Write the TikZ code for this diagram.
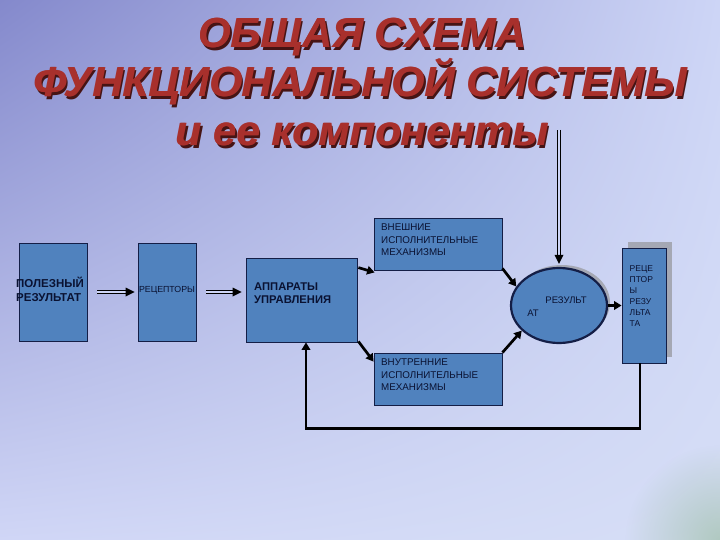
\documentclass[tikz,border=0pt]{standalone}
\usepackage{fontspec}
\setmainfont{Liberation Sans}
\usetikzlibrary{arrows.meta,shapes.geometric,fadings,shadings}
\tikzfading[name=cornerfade, inner color=transparent!0, outer color=transparent!100]
\definecolor{bgA}{RGB}{132,137,204}
\definecolor{bgB}{RGB}{205,213,246}
\definecolor{bgC}{RGB}{208,214,246}
\definecolor{bgD}{RGB}{214,222,246}
\definecolor{corner}{RGB}{160,192,170}
\definecolor{boxblue}{RGB}{80,130,190}
\definecolor{boxline}{RGB}{20,30,70}
\definecolor{txt}{RGB}{10,18,50}
\definecolor{ttl}{RGB}{168,48,44}
\definecolor{ttlsh}{RGB}{70,20,20}
\definecolor{shadowgrey}{RGB}{165,168,180}
\newcommand{\myttl}[1]{\makebox[0pt][l]{\hspace*{2.2pt}\raisebox{-2.2pt}{\color{ttlsh}#1}}\makebox[0pt][l]{\hspace*{0.8pt}#1}#1}
\tikzset{
  boxnode/.style={draw=boxline, fill=boxblue, line width=0.8pt, inner sep=0pt},
  boxtext/.style={text=txt, inner sep=0pt, align=left, font=\fontsize{9.8}{12.5}\selectfont},
  arr/.style={line width=2.7pt, -{Triangle[length=7.5pt,width=8.5pt]}},
  dblline/.style={draw=black, double=bgB, double distance=2.2pt, line width=0.7pt},
  ttlfont/.style={font=\fontsize{42}{42}\selectfont\bfseries\itshape, inner sep=0pt, anchor=base, text=ttl}
}
\begin{document}
\begin{tikzpicture}[x=1pt,y=-1pt]
\useasboundingbox (0,0) rectangle (720,540);
\begin{scope}
\clip (0,0) rectangle (720,540);
\shade[upper left=bgA, upper right=bgB, lower left=bgC, lower right=bgD] (0,0) rectangle (720,540);
\fill[corner, path fading=cornerfade, fill opacity=0.7] (720,540) circle (95);
\end{scope}

% title
\node[ttlfont] (t1) at (362,48) {\myttl{ОБЩАЯ СХЕМА}};
\node[ttlfont] (t2) at (360,97) {\myttl{ФУНКЦИОНАЛЬНОЙ СИСТЕМЫ}};
\node[ttlfont] (t3) at (362,146) {\myttl{и ее компоненты}};

% boxes
\node[boxnode, minimum width=68pt, minimum height=98pt] (pr) at (53,292) {};
\node[text=txt, inner sep=0pt, align=left, font=\fontsize{11.5}{14}\selectfont\bfseries, anchor=west] (prT) at (16,289) {ПОЛЕЗНЫЙ\\РЕЗУЛЬТАТ};
\node[boxnode, minimum width=58pt, minimum height=98pt] (rc) at (167,292) {};
\node[text=txt, inner sep=0pt, font=\fontsize{8.8}{10}\selectfont] (rcT) at (167,290) {РЕЦЕПТОРЫ};
\node[boxnode, minimum width=111pt, minimum height=84pt] (au) at (301.5,300) {};
\node[text=txt, inner sep=0pt, align=left, font=\fontsize{11.2}{12.8}\selectfont\bfseries, anchor=west] (auT) at (254,293) {АППАРАТЫ\\УПРАВЛЕНИЯ};
\node[boxnode, minimum width=128pt, minimum height=52pt] (vn) at (438,244) {};
\node[boxtext, anchor=west] (vnT) at (381,240) {ВНЕШНИЕ\\ИСПОЛНИТЕЛЬНЫЕ\\МЕХАНИЗМЫ};
\node[boxnode, minimum width=128pt, minimum height=52pt] (vt) at (438,379) {};
\node[boxtext, anchor=west] (vtT) at (381,375) {ВНУТРЕННИЕ\\ИСПОЛНИТЕЛЬНЫЕ\\МЕХАНИЗМЫ};

% result ellipse
\fill[shadowgrey] (562,302.5) ellipse (48 and 37.5);
\node[ellipse, draw=boxline, fill=boxblue, line width=2.2pt, minimum width=96pt, minimum height=75pt, inner sep=0pt] (el) at (559,305.5) {};
\node[text=txt, inner sep=0pt, font=\fontsize{9.5}{11}\selectfont] (elT1) at (566,300) {РЕЗУЛЬТ};
\node[text=txt, inner sep=0pt, font=\fontsize{9.5}{11}\selectfont] (elT2) at (533,313) {АТ};

% receptors of result
\fill[shadowgrey] (628,242) rectangle (672,357);
\node[boxnode, minimum width=44pt, minimum height=115pt] (rr) at (644,305.5) {};
\node[text=txt, inner sep=0pt, align=left, font=\fontsize{8.5}{11}\selectfont, anchor=north west] (rrT) at (629.5,265) {РЕЦЕ\\ПТОР\\Ы\\РЕЗУ\\ЛЬТА\\ТА};

% double arrows (line + separate head)
\coordinate (a1e) at ([xshift=-3pt]rc.west);
\coordinate (a2x) at (au.west |- rc.east);
\coordinate (a2e) at ([xshift=-4pt]a2x);
\coordinate (topin) at (559,130);
\coordinate (a3e) at ([yshift=3pt]el.north);
\draw[dblline] ([xshift=10pt]pr.east) -- ([xshift=-7pt]a1e);
\fill[black] (a1e) -- ++(-9,-4.5) -- ++(0,9) -- cycle;
\draw[dblline] ([xshift=10pt]rc.east) -- ([xshift=-7pt]a2e);
\fill[black] (a2e) -- ++(-9,-4.5) -- ++(0,9) -- cycle;
\draw[dblline] (topin) -- ([yshift=7pt]a3e);
\fill[black] (a3e) -- ++(-4.5,-9) -- ++(9,0) -- cycle;

% connectors
\draw[arr] ([shift={(1pt,-10pt)}]au.north east) -- ([shift={(1pt,-2pt)}]vn.south west);
\draw[arr] ([shift={(1pt,1pt)}]au.south east) -- ([shift={(0pt,-9pt)}]vt.north west);
\draw[arr] ([shift={(0pt,2pt)}]vn.south east) -- (el.156);
\draw[arr] (vt.north east) -- (el.214);
\draw[arr] (el.east) -- (rr.west);
\draw[arr] ([xshift=-4pt]rr.south) -- ++(0,65) -| ([xshift=4.5pt]au.south);
\end{tikzpicture}
\end{document}
